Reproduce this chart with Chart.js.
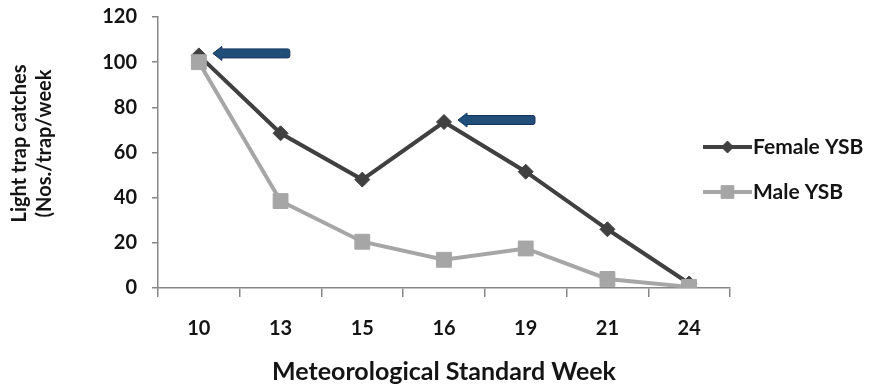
<!DOCTYPE html>
<html>
<head>
<meta charset="utf-8">
<script src="https://cdn.jsdelivr.net/npm/chart.js@4/dist/chart.umd.min.js"></script>
<style>
  html, body { margin: 0; padding: 0; background: #fff; }
  #wrap { width: 873px; height: 387px; }
</style>
</head>
<body>
<div id="wrap"><canvas id="c"></canvas></div>
<script>
// Light trap catches of yellow stem borer by meteorological standard week
const weeks = ['10', '13', '15', '16', '19', '21', '24'];
const femaleYSB = [103, 68.5, 48, 73.5, 51.5, 26, 2];
const maleYSB = [100, 38.5, 20.5, 12.5, 17.5, 4, 0.5];
const yTicks = [0, 20, 40, 60, 80, 100, 120];
const seriesNames = ['Female YSB', 'Male YSB'];
const yTitleLines = ['Light trap catches', '(Nos./trap/week'];
const xTitle = 'Meteorological Standard Week';
// weeks whose female peak is flagged with an arrow
const arrowWeeks = ['10', '16'];

const FONT = 'Lato, "Open Sans", sans-serif';
const FEMALE_COLOR = '#404040';
const MALE_COLOR = '#a6a6a6';
const AXIS_COLOR = '#878787';
const TEXT_COLOR = '#141414';

Chart.defaults.font.family = FONT;

// Two-line rotated title for the value axis
const yTitlePlugin = {
  id: 'yTitle',
  afterDraw(chart) {
    const ctx = chart.ctx;
    const area = chart.chartArea;
    const cy = (area.top + area.bottom) / 2 - 9;
    ctx.save();
    ctx.fillStyle = TEXT_COLOR;
    ctx.font = 'bold 20px ' + FONT;
    ctx.textAlign = 'center';
    ctx.textBaseline = 'middle';
    yTitleLines.forEach((line, i) => {
      ctx.save();
      ctx.translate(20 + i * 25, cy);
      ctx.rotate(-Math.PI / 2);
      ctx.fillText(line, 0, 0);
      ctx.restore();
    });
    ctx.restore();
  }
};

// Legend at the right: line sample with marker, then label
const sideLegendPlugin = {
  id: 'sideLegend',
  afterDraw(chart) {
    const ctx = chart.ctx;
    const area = chart.chartArea;
    const x0 = area.right - 27;
    const x1 = area.right + 22;
    const rows = [
      { y: 147, color: FEMALE_COLOR, style: 'rectRot', r: 6 },
      { y: 192, color: MALE_COLOR, style: 'rect', r: 9 }
    ];
    rows.forEach((row, i) => {
      ctx.save();
      ctx.strokeStyle = row.color;
      ctx.lineWidth = 4;
      ctx.beginPath();
      ctx.moveTo(x0, row.y);
      ctx.lineTo(x1, row.y);
      ctx.stroke();
      ctx.fillStyle = row.color;
      ctx.strokeStyle = row.color;
      ctx.lineWidth = 1;
      Chart.helpers.drawPoint(ctx, { pointStyle: row.style, radius: row.r, rotation: 0, borderWidth: 1 }, (x0 + x1) / 2, row.y);
      ctx.fillStyle = TEXT_COLOR;
      ctx.font = 'bold 21px ' + FONT;
      ctx.textAlign = 'left';
      ctx.textBaseline = 'middle';
      ctx.fillText(seriesNames[i], x1 + 1, row.y);
      ctx.restore();
    });
  }
};

// Blue arrows pointing back at flagged female peaks
const arrowPlugin = {
  id: 'peakArrows',
  afterDatasetsDraw(chart) {
    const ctx = chart.ctx;
    const meta = chart.getDatasetMeta(0);
    arrowWeeks.forEach(w => {
      const idx = weeks.indexOf(w);
      const pt = meta.data[idx];
      const tipX = pt.x + 14;
      const y = pt.y - 2;
      const tailX = tipX + 77;
      const headLen = 9, headHalf = 7, shaftHalf = 4.5;
      ctx.save();
      ctx.fillStyle = '#1f4e79';
      ctx.strokeStyle = '#17375e';
      ctx.lineWidth = 1;
      ctx.lineJoin = 'round';
      ctx.beginPath();
      ctx.moveTo(tipX, y);
      ctx.lineTo(tipX + headLen, y - headHalf);
      ctx.lineTo(tipX + headLen, y - shaftHalf);
      ctx.lineTo(tailX - 2, y - shaftHalf);
      ctx.quadraticCurveTo(tailX, y - shaftHalf, tailX, y - shaftHalf + 2);
      ctx.lineTo(tailX, y + shaftHalf - 2);
      ctx.quadraticCurveTo(tailX, y + shaftHalf, tailX - 2, y + shaftHalf);
      ctx.lineTo(tipX + headLen, y + shaftHalf);
      ctx.lineTo(tipX + headLen, y + headHalf);
      ctx.closePath();
      ctx.fill();
      ctx.stroke();
      ctx.restore();
    });
  }
};

new Chart(document.getElementById('c'), {
  type: 'line',
  data: {
    labels: weeks,
    datasets: [
      {
        label: seriesNames[0],
        data: femaleYSB,
        borderColor: FEMALE_COLOR,
        backgroundColor: FEMALE_COLOR,
        borderWidth: 4,
        pointStyle: 'rectRot',
        pointRadius: 7.5,
        pointBorderWidth: 1,
        tension: 0,
        order: 1
      },
      {
        label: seriesNames[1],
        data: maleYSB,
        borderColor: MALE_COLOR,
        backgroundColor: MALE_COLOR,
        borderWidth: 4,
        pointStyle: 'rect',
        pointRadius: 10.5,
        pointBorderWidth: 1,
        tension: 0,
        order: 0
      }
    ]
  },
  options: {
    responsive: true,
    maintainAspectRatio: false,
    animation: false,
    events: [],
    layout: { padding: { top: 17, right: 143, left: 0, bottom: 0 } },
    plugins: {
      legend: { display: false },
      tooltip: { enabled: false }
    },
    scales: {
      x: {
        type: 'category',
        offset: true,
        grid: {
          offset: true,
          drawOnChartArea: false,
          drawTicks: true,
          tickLength: 9,
          color: AXIS_COLOR,
          lineWidth: 1.5
        },
        border: { color: AXIS_COLOR, width: 1.5 },
        ticks: {
          color: TEXT_COLOR,
          font: { size: 20, weight: 'bold' },
          padding: 20,
          maxRotation: 0
        },
        title: {
          display: true,
          text: xTitle,
          color: TEXT_COLOR,
          font: { size: 25, weight: 'bold' },
          padding: { top: 0, bottom: 0 }
        },
        afterFit(scale) {
          scale.height = 99;
          scale.paddingLeft = 0;
          scale.paddingRight = 0;
        }
      },
      y: {
        min: 0,
        max: 120,
        afterBuildTicks(scale) { scale.ticks = yTicks.map(v => ({ value: v })); },
        grid: {
          drawOnChartArea: false,
          drawTicks: true,
          tickLength: 6,
          color: AXIS_COLOR,
          lineWidth: 1.5
        },
        border: { color: AXIS_COLOR, width: 1.5 },
        ticks: {
          color: TEXT_COLOR,
          font: { size: 20, weight: 'bold' },
          padding: 15
        },
        afterFit(scale) {
          scale.width = 158;
          scale.paddingTop = 0;
          scale.paddingBottom = 0;
        }
      }
    }
  },
  plugins: [yTitlePlugin, sideLegendPlugin, arrowPlugin]
});
</script>
</body>
</html>
